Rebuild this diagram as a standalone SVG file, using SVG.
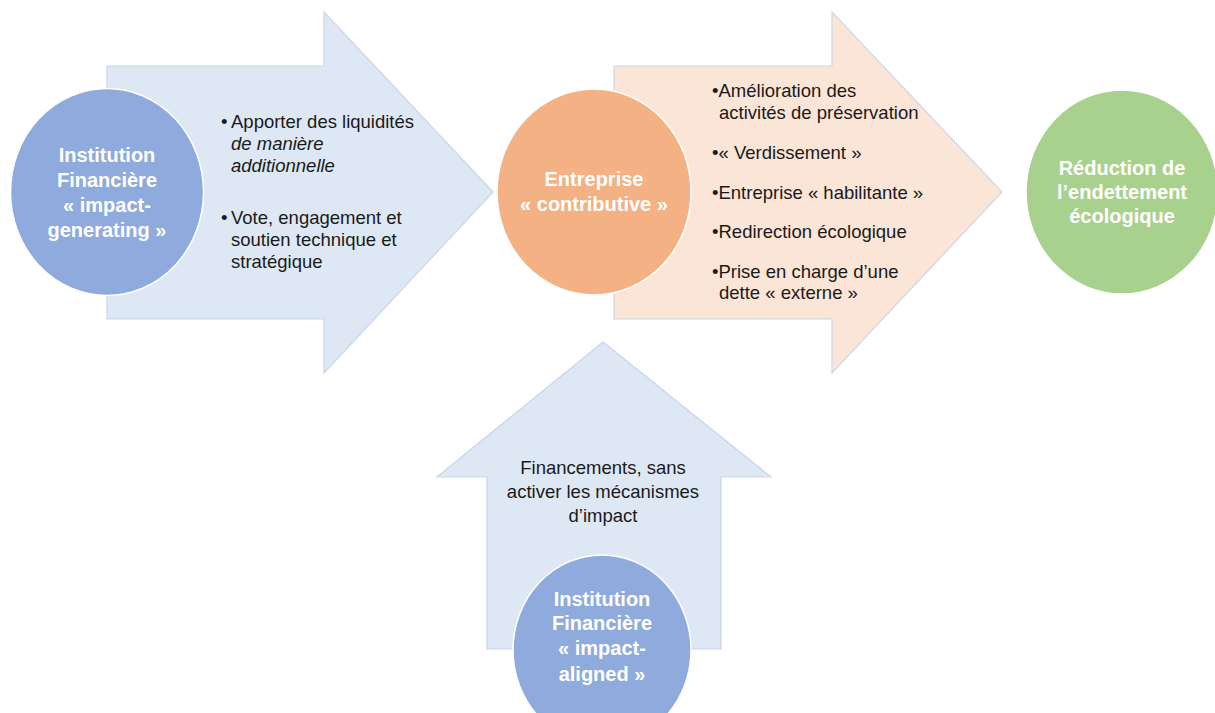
<svg xmlns="http://www.w3.org/2000/svg" width="1215" height="713" viewBox="0 0 1215 713">
  <style>
    .arrow-blue { fill: #dee8f5; stroke: #c8d5ea; stroke-width: 1.2; }
    .arrow-orange { fill: #fbe5d6; stroke: #cdd6ea; stroke-width: 1.2; }
    .disc { stroke: #ffffff; stroke-width: 1.5; }
    .blue { fill: #8faadc; }
    .orange { fill: #f4b183; }
    .green { fill: #a9d18e; }
    .label { font-family: "Liberation Sans", Arial, sans-serif; font-size: 20px; font-weight: bold; fill: #ffffff; text-anchor: middle; }
    .body { font-family: "Liberation Sans", Arial, sans-serif; font-size: 18.5px; fill: #1a1a1a; }
    .mid { text-anchor: middle; }
    .it { font-style: italic; }
  </style>
  <rect width="1215" height="713" fill="#ffffff"/>

  <!-- block arrows carrying the flow between actors -->
  <g id="connectors">
    <g id="flow-generating">
      <polygon class="arrow-blue" points="107,66 324,66 324,12 493,192 324,373 324,319 107,319"/>
      <text class="body" x="221" y="128" font-size="14">•</text>
      <text class="body" x="231" y="128">Apporter des liquidités</text>
      <text class="body it" x="231" y="150">de manière</text>
      <text class="body it" x="231" y="172">additionnelle</text>
      <text class="body" x="221" y="224" font-size="14">•</text>
      <text class="body" x="231" y="224">Vote, engagement et</text>
      <text class="body" x="231" y="246">soutien technique et</text>
      <text class="body" x="231" y="268">stratégique</text>
    </g>
    <g id="flow-contributive">
      <polygon class="arrow-orange" points="614,66 832,66 832,12 1002,192 832,373 832,319 614,319"/>
      <text class="body" x="712" y="97">•Amélioration des</text>
      <text class="body" x="719" y="119">activités de préservation</text>
      <text class="body" x="712" y="159">•« Verdissement  »</text>
      <text class="body" x="712" y="199">•Entreprise « habilitante »</text>
      <text class="body" x="712" y="238">•Redirection écologique</text>
      <text class="body" x="712" y="278">•Prise en charge d’une</text>
      <text class="body" x="719" y="299">dette « externe »</text>
    </g>
    <g id="flow-aligned">
      <polygon class="arrow-blue" points="603,342 771,477 721,477 721,649 487,649 487,477 437,477"/>
      <text class="body mid" x="603" y="474">Financements, sans</text>
      <text class="body mid" x="603" y="498">activer les mécanismes</text>
      <text class="body mid" x="603" y="522">d’impact</text>
    </g>
  </g>

  <g id="node-impact-generating">
    <ellipse class="disc blue" cx="107" cy="192" rx="96.5" ry="103.5"/>
    <text class="label" x="107" y="162">Institution</text>
    <text class="label" x="107" y="187">Financière</text>
    <text class="label" x="107" y="212">« impact-</text>
    <text class="label" x="107" y="237">generating »</text>
  </g>

  <g id="node-entreprise">
    <ellipse class="disc orange" cx="594" cy="192" rx="97" ry="103"/>
    <text class="label" x="594" y="186">Entreprise</text>
    <text class="label" x="594" y="211">« contributive »</text>
  </g>

  <g id="node-reduction">
    <ellipse class="disc green" cx="1122" cy="192" rx="96" ry="102"/>
    <text class="label" x="1122" y="175">Réduction de</text>
    <text class="label" x="1122" y="199">l’endettement</text>
    <text class="label" x="1122" y="223">écologique</text>
  </g>

  <g id="node-impact-aligned">
    <ellipse class="disc blue" cx="602" cy="650" rx="89" ry="95"/>
    <text class="label" x="602" y="606">Institution</text>
    <text class="label" x="602" y="630">Financière</text>
    <text class="label" x="602" y="655">« impact-</text>
    <text class="label" x="602" y="681">aligned »</text>
  </g>
</svg>
